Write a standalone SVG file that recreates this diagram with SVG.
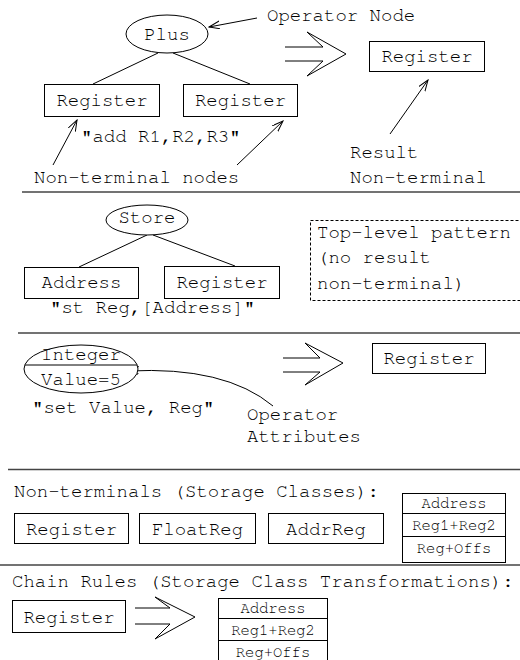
<svg xmlns="http://www.w3.org/2000/svg" width="520" height="660" viewBox="0 0 520 660">
<style>
text{font-family:"Nimbus Mono PS","Nimbus Mono L","FreeMono","Courier New","Liberation Mono","DejaVu Sans Mono",monospace;font-size:19px;fill:#000}
.c{text-anchor:middle}
.s{font-size:15.5px}
.b{fill:#fff;stroke:#000;stroke-width:1}
.l{fill:none;stroke:#000;stroke-width:1}
.sep{stroke:#444;stroke-width:1.5}
.d{fill:none;stroke:#000;stroke-width:1;stroke-dasharray:3,2}
</style>
<defs>
<marker id="ah" markerWidth="12" markerHeight="10" refX="11" refY="4" orient="auto" markerUnits="userSpaceOnUse">
<path d="M0,0 L11,4 L0,8" fill="none" stroke="#000" stroke-width="1"/>
</marker>
</defs>
<rect width="520" height="660" fill="#fff"/>
<g id="separators">
<line class="sep" x1="22" y1="192" x2="520" y2="192"/>
<line class="sep" x1="18" y1="333" x2="520" y2="333"/>
<line class="sep" x1="8" y1="469.5" x2="520" y2="469.5"/>
<line class="sep" x1="0" y1="565" x2="520" y2="565"/>
</g>
<g id="connectors">
<line class="l" x1="158" y1="53" x2="93" y2="84"/>
<line class="l" x1="173" y1="53" x2="250" y2="84"/>
<line class="l" x1="147" y1="235" x2="79" y2="267"/>
<line class="l" x1="153" y1="235" x2="235" y2="266"/>
<line class="l" x1="257" y1="18" x2="209" y2="27" marker-end="url(#ah)"/>
<line class="l" x1="53" y1="165" x2="77" y2="120" marker-end="url(#ah)"/>
<line class="l" x1="237" y1="165" x2="283" y2="121" marker-end="url(#ah)"/>
<line class="l" x1="390" y1="134" x2="428" y2="80" marker-end="url(#ah)"/>
<path class="l" d="M273,406 Q225,366 128,371" marker-end="url(#ah)"/>
<polyline class="l" points="285,47 323,47 307,32 346,54 307,76 323,61 285,61"/>
<polyline class="l" points="283,358 320,358 305,343 343,363 305,385 320,372 283,372"/>
<polyline class="l" points="135,608 170,608 155,597 195,617 155,639 170,624 135,624"/>
</g>
<g id="plus"><ellipse class="b" cx="167" cy="34" rx="41" ry="19"/><text class="c" x="167" y="40">Plus</text></g>
<g id="reg1"><rect class="b" x="44.5" y="84.5" width="115" height="32"/><text class="c" x="102" y="106">Register</text></g>
<g id="reg2"><rect class="b" x="183.5" y="84.5" width="114" height="32"/><text class="c" x="240.5" y="106">Register</text></g>
<g id="opnode"><text x="267" y="21">Operator Node</text></g>
<g id="reg3"><rect class="b" x="369.5" y="41.5" width="115" height="30"/><text class="c" x="427" y="62">Register</text></g>
<g id="add"><text x="81" y="142">"add R1,R2,R3"</text></g>
<g id="ntnodes"><text x="34" y="183">Non-terminal nodes</text></g>
<g id="result"><text x="350" y="158">Result</text><text x="350" y="183">Non-terminal</text></g>
<g id="store"><ellipse class="b" cx="147" cy="220" rx="41" ry="15"/><text class="c" x="147" y="223">Store</text></g>
<g id="address"><rect class="b" x="24.5" y="267.5" width="114" height="31"/><text class="c" x="81.5" y="288">Address</text></g>
<g id="reg4"><rect class="b" x="164.5" y="266.5" width="115" height="32"/><text class="c" x="222" y="288">Register</text></g>
<g id="st"><text x="50" y="313">"st Reg,[Address]"</text></g>
<g id="toplevel"><rect class="d" x="310.5" y="220.5" width="215" height="80"/><text x="317" y="238">Top-level pattern</text><text x="317" y="263">(no result</text><text x="317" y="289">non-terminal)</text></g>
<g id="integer"><ellipse class="b" cx="81" cy="369" rx="57" ry="24"/><line class="l" x1="25" y1="365" x2="137" y2="365"/><text class="c" x="81" y="360">Integer</text><text class="c" x="81" y="385">Value=5</text></g>
<g id="set"><text x="32" y="413">"set Value, Reg"</text></g>
<g id="opattr"><text x="247" y="420">Operator</text><text x="247" y="442">Attributes</text></g>
<g id="reg5"><rect class="b" x="372.5" y="343.5" width="113" height="30"/><text class="c" x="429" y="364">Register</text></g>
<g id="ntlabel"><text x="14" y="497">Non-terminals (Storage Classes):</text></g>
<g id="reg6"><rect class="b" x="14.5" y="513.5" width="114" height="30"/><text class="c" x="71.5" y="535">Register</text></g>
<g id="floatreg"><rect class="b" x="139.5" y="513.5" width="116" height="30"/><text class="c" x="197.5" y="535">FloatReg</text></g>
<g id="addrreg"><rect class="b" x="268.5" y="513.5" width="115" height="30"/><text class="c" x="326" y="535">AddrReg</text></g>
<g id="addrtable1"><rect class="b" x="402.5" y="493.5" width="103" height="69"/><line class="l" x1="402.5" y1="513.5" x2="505.5" y2="513.5"/><line class="l" x1="402.5" y1="536.5" x2="505.5" y2="536.5"/><text class="c s" x="454" y="508">Address</text><text class="c s" x="454" y="530">Reg1+Reg2</text><text class="c s" x="454" y="553">Reg+Offs</text></g>
<g id="chainlabel"><text x="12" y="587">Chain Rules (Storage Class Transformations):</text></g>
<g id="reg7"><rect class="b" x="12.5" y="600.5" width="113" height="32"/><text class="c" x="69" y="623">Register</text></g>
<g id="addrtable2"><rect class="b" x="218.5" y="598.5" width="109" height="70"/><line class="l" x1="218.5" y1="618.5" x2="327.5" y2="618.5"/><line class="l" x1="218.5" y1="640.5" x2="327.5" y2="640.5"/><text class="c s" x="273" y="613">Address</text><text class="c s" x="273" y="635">Reg1+Reg2</text><text class="c s" x="273" y="657">Reg+Offs</text></g>
</svg>
